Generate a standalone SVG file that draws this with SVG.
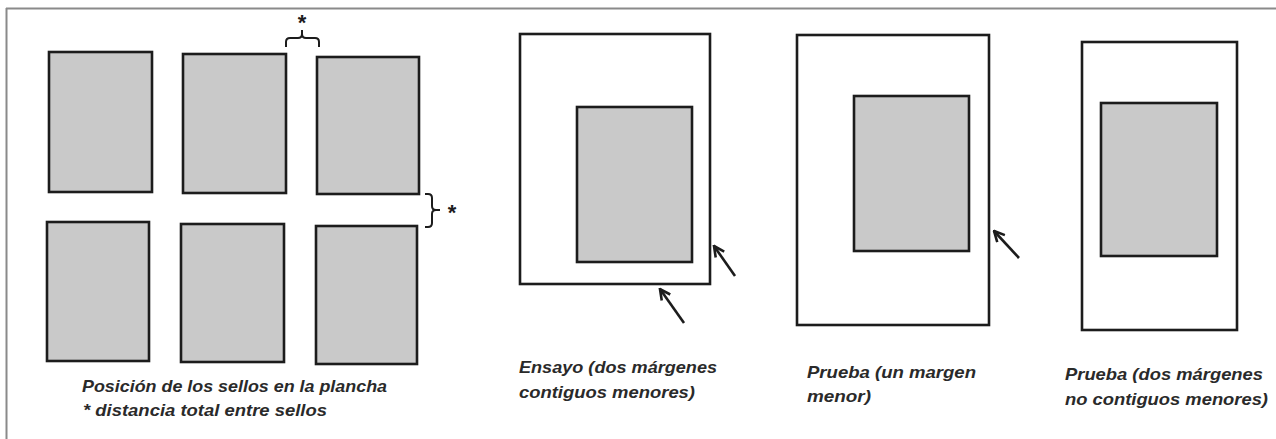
<svg xmlns="http://www.w3.org/2000/svg" width="1276" height="439" viewBox="0 0 1276 439">
<defs>
<style>
.stamp{fill:#c9c9c9;stroke:#1c1c1c;stroke-width:2.6}
.sheet{fill:#ffffff;stroke:#1c1c1c;stroke-width:2.6}
.brace{fill:none;stroke:#1c1c1c;stroke-width:2}
.arrow{stroke:#1c1c1c;stroke-width:2.6;fill:none;marker-end:url(#ah)}
.lbl{font-family:"Liberation Sans",Arial,sans-serif;font-style:italic;font-weight:bold;font-size:17px;fill:#2a2a2a}
.star{font-family:"Liberation Sans",Arial,sans-serif;font-weight:bold;font-size:22px;fill:#1c1c1c}
</style>
<marker id="ah" viewBox="0 0 10 10" refX="9" refY="5" markerWidth="5" markerHeight="5" orient="auto" markerUnits="strokeWidth">
<path d="M1,1 L9,5 L1,9" fill="none" stroke="#1c1c1c" stroke-width="2"/>
</marker>
</defs>
<rect x="0" y="0" width="1276" height="439" fill="#ffffff"/>
<g id="frame">
<line x1="6" y1="8.5" x2="1276" y2="8.5" stroke="#8a8a8a" stroke-width="2"/>
<line x1="6.5" y1="8" x2="6.5" y2="439" stroke="#8a8a8a" stroke-width="2"/>
</g>
<g id="plancha">
<rect id="s1" class="stamp" x="49" y="52" width="103" height="140"/>
<rect id="s2" class="stamp" x="183" y="54" width="103" height="139"/>
<rect id="s3" class="stamp" x="317" y="57" width="102" height="137"/>
<rect id="s4" class="stamp" x="47" y="222" width="102" height="139"/>
<rect id="s5" class="stamp" x="181" y="224" width="103" height="138"/>
<rect id="s6" class="stamp" x="316" y="226" width="101" height="138"/>
</g>
<g id="braces">
<path class="brace" d="M286,47 L286,42 Q286,38 290,38 L298,38 Q302,38 302,34 L302,30 M302,34 Q302,38 306,38 L315,38 Q319,38 319,42 L319,47"/>
<text class="star" x="302" y="30" text-anchor="middle">*</text>
<path class="brace" d="M425,194 L428,194 Q432,194 432,198 L432,206 Q432,210 436,210 L440,210 M436,210 Q432,210 432,214 L432,223 Q432,227 428,227 L425,227"/>
<text class="star" x="452" y="220" text-anchor="middle">*</text>
</g>
<g id="ensayo">
<rect class="sheet" x="520" y="34" width="190" height="250"/>
<rect class="stamp" x="577" y="107" width="115" height="155"/>
</g>
<g id="prueba1">
<rect class="sheet" x="797" y="35" width="192" height="290"/>
<rect class="stamp" x="854" y="96" width="115" height="155"/>
</g>
<g id="prueba2">
<rect class="sheet" x="1082" y="42" width="155" height="288"/>
<rect class="stamp" x="1101" y="103" width="116" height="153"/>
</g>
<g id="connectors">
<line class="arrow" x1="735" y1="276" x2="714" y2="246"/>
<line class="arrow" x1="684" y1="323" x2="660" y2="289"/>
<line class="arrow" x1="1019" y1="258" x2="994" y2="231"/>
</g>
<g id="labels">
<text class="lbl" x="82" y="392" textLength="305" lengthAdjust="spacingAndGlyphs">Posición de los sellos en la plancha</text>
<text class="lbl" x="83" y="416" textLength="244" lengthAdjust="spacingAndGlyphs">* distancia total entre sellos</text>
<text class="lbl" x="519" y="373" textLength="198" lengthAdjust="spacingAndGlyphs">Ensayo (dos márgenes</text>
<text class="lbl" x="519" y="398" textLength="176" lengthAdjust="spacingAndGlyphs">contiguos menores)</text>
<text class="lbl" x="807" y="378" textLength="169" lengthAdjust="spacingAndGlyphs">Prueba (un margen</text>
<text class="lbl" x="807" y="402" textLength="64" lengthAdjust="spacingAndGlyphs">menor)</text>
<text class="lbl" x="1065" y="380" textLength="198" lengthAdjust="spacingAndGlyphs">Prueba (dos márgenes</text>
<text class="lbl" x="1065" y="405" textLength="203" lengthAdjust="spacingAndGlyphs">no contiguos menores)</text>
</g>
</svg>
